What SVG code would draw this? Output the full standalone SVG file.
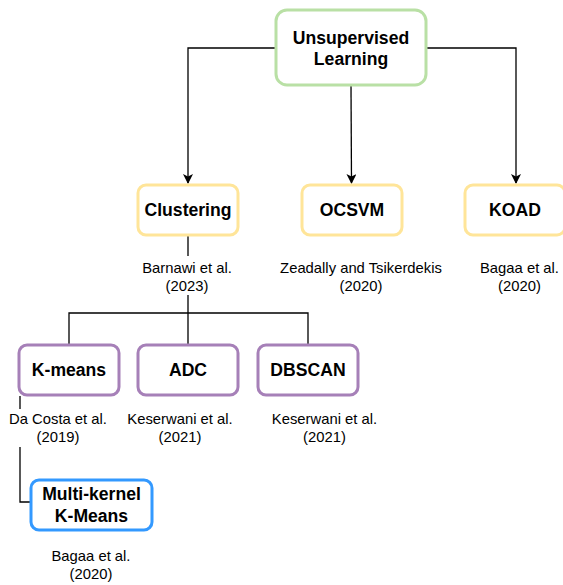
<svg xmlns="http://www.w3.org/2000/svg" width="563" height="585" viewBox="0 0 563 585">
<defs>
<marker id="arr" viewBox="0 0 10 10" refX="9" refY="5" markerWidth="10" markerHeight="10" markerUnits="userSpaceOnUse" orient="auto">
<path d="M0,0 L10,5 L0,10 L2.5,5 Z" fill="#000"/>
</marker>
<style>
.n{fill:#fff;stroke-width:3}
.g{stroke:#B9E0A5}.y{stroke:#FFE599}.p{stroke:#A680B8}.b{stroke:#3399FF}
.t{font-family:"Liberation Sans",Arial,sans-serif;font-weight:bold;font-size:17.6px;fill:#000;text-anchor:middle}
.l{font-family:"Liberation Sans",Arial,sans-serif;font-size:14.8px;fill:#000;text-anchor:middle}
.c{fill:none;stroke:#000;stroke-width:1.3}
</style>
</defs>
<g id="connectors">
<path class="c" d="M276 48 H188 V183" marker-end="url(#arr)"/>
<path class="c" d="M351 86 L351.5 183" marker-end="url(#arr)"/>
<path class="c" d="M427 48 H516 V183" marker-end="url(#arr)"/>
<path class="c" d="M188 236 V256 M188 295 V313 M69 345 V313 H308 V345 M188 313 V345"/>
<path class="c" d="M20 396 V409 M20 447 V502 H31"/>
</g>
<g id="unsupervised"><rect class="n g" x="276" y="10" width="150" height="75" rx="11"/>
<text class="t" x="351" y="44">Unsupervised</text><text class="t" x="351" y="65">Learning</text></g>
<g id="clustering"><rect class="n y" x="138" y="185" width="100" height="50" rx="8"/>
<text class="t" x="188" y="216">Clustering</text></g>
<g id="ocsvm"><rect class="n y" x="302" y="185" width="100" height="50" rx="8"/>
<text class="t" x="352" y="216">OCSVM</text></g>
<g id="koad"><rect class="n y" x="465" y="185" width="100" height="50" rx="8"/>
<text class="t" x="515" y="216">KOAD</text></g>
<g id="kmeans"><rect class="n p" x="19" y="345" width="100" height="50" rx="8"/>
<text class="t" x="69" y="376">K-means</text></g>
<g id="adc"><rect class="n p" x="138" y="345" width="100" height="50" rx="8"/>
<text class="t" x="188" y="376">ADC</text></g>
<g id="dbscan"><rect class="n p" x="258" y="345" width="100" height="50" rx="8"/>
<text class="t" x="308" y="376">DBSCAN</text></g>
<g id="multikernel"><rect class="n b" x="31" y="480" width="121" height="50" rx="8"/>
<text class="t" x="91.5" y="500">Multi-kernel</text><text class="t" x="91.5" y="522">K-Means</text></g>
<g id="labels">
<text class="l" x="187" y="273">Barnawi et al.</text><text class="l" x="187" y="291">(2023)</text>
<text class="l" x="361" y="273">Zeadally and Tsikerdekis</text><text class="l" x="361" y="291">(2020)</text>
<text class="l" x="519.5" y="273">Bagaa et al.</text><text class="l" x="519.5" y="291">(2020)</text>
<text class="l" x="58" y="424">Da Costa et al.</text><text class="l" x="58" y="442">(2019)</text>
<text class="l" x="180" y="424">Keserwani et al.</text><text class="l" x="180" y="442">(2021)</text>
<text class="l" x="324.5" y="424">Keserwani et al.</text><text class="l" x="324.5" y="442">(2021)</text>
<text class="l" x="91" y="561">Bagaa et al.</text><text class="l" x="91" y="579">(2020)</text>
</g>
</svg>
